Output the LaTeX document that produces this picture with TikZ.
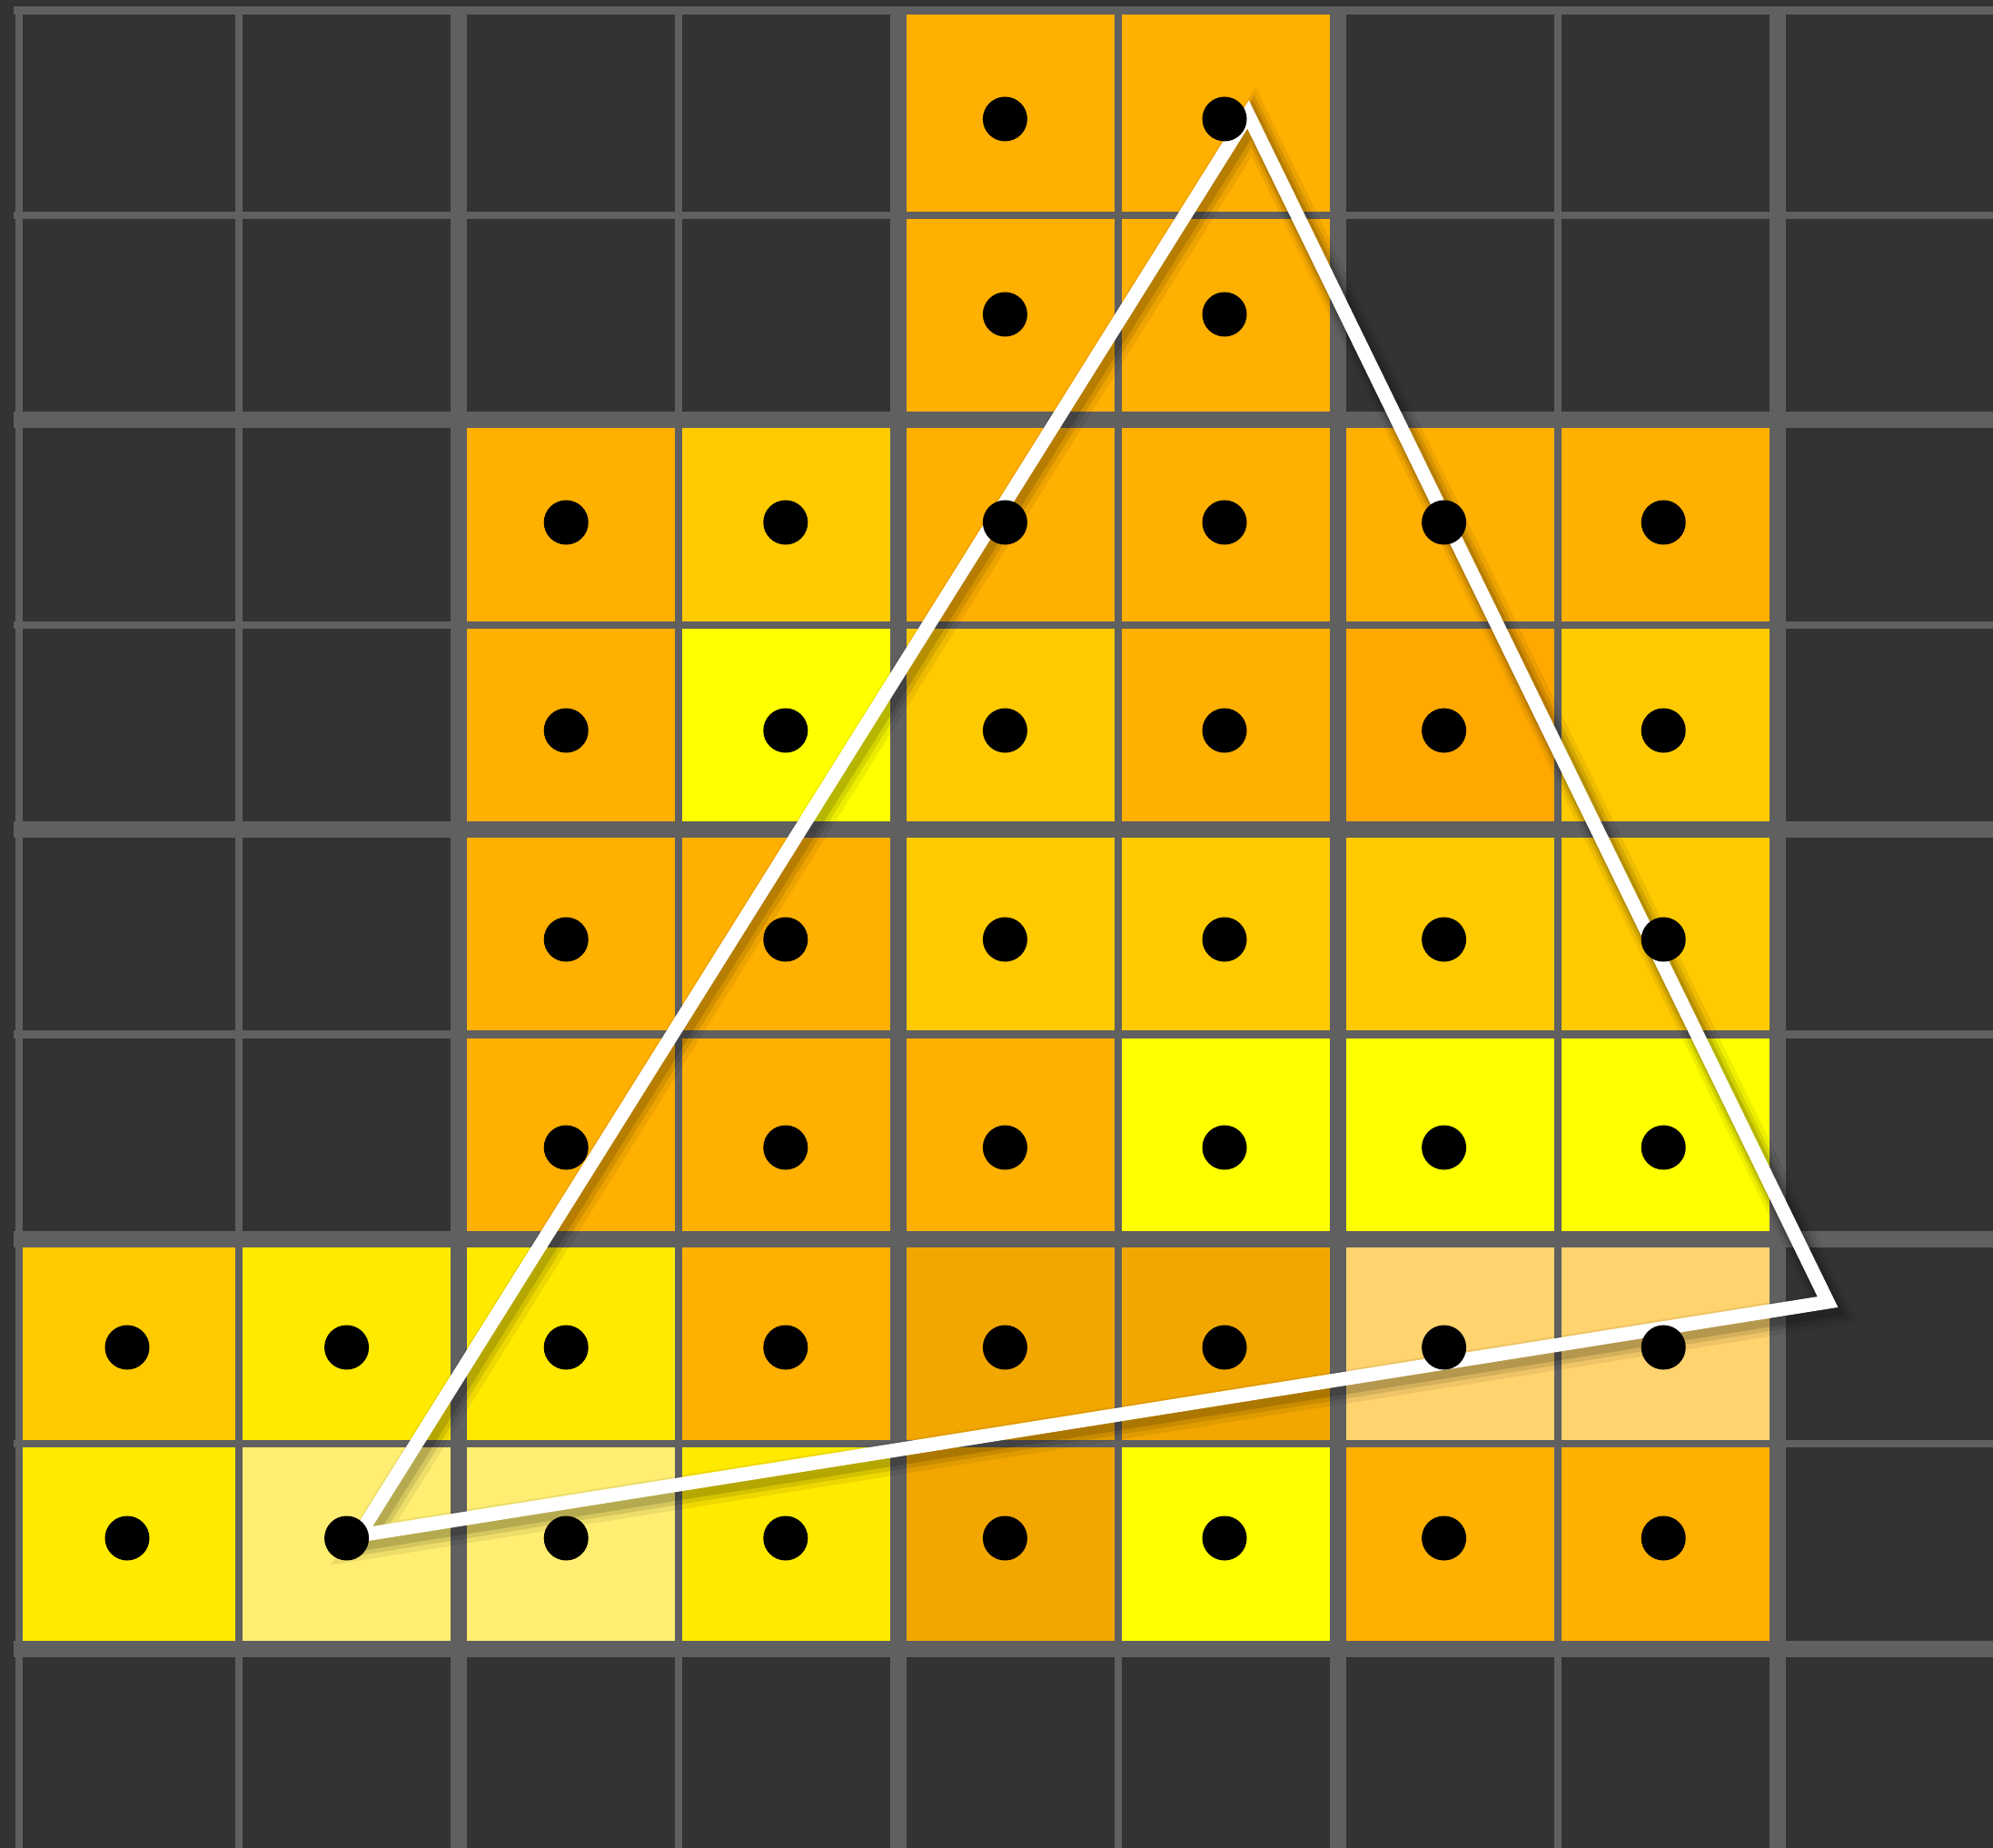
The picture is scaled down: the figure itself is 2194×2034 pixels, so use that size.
\documentclass[tikz,border=0pt]{standalone}
\definecolor{bgdark}{HTML}{333333}
\definecolor{gridc}{HTML}{606060}
\definecolor{cO}{HTML}{FFB000}
\definecolor{cOt}{HTML}{FFA900}
\definecolor{cG}{HTML}{FFCA00}
\definecolor{cY}{HTML}{FFFF00}
\definecolor{cYt}{HTML}{FFEA00}
\definecolor{cP}{HTML}{FFEE72}
\definecolor{cPO}{HTML}{FFD36E}
\definecolor{cDO}{HTML}{F2A700}
\tikzset{
  gridthin/.style={draw=gridc, line width=2.3pt},
  gridthick/.style={draw=gridc, line width=5.1pt},
  edge/.style={draw=white, line width=4.3pt, line join=miter, miter limit=10},
  edgeshadow/.style={draw=black, line join=miter, miter limit=10},
  sample/.style={fill=black}
}
\begin{document}
\begin{tikzpicture}[x=0.01cm,y=-0.01cm]
\useasboundingbox (0,0) rectangle (2194,2034);
\fill[bgdark] (0,0) rectangle (2194,2034);
\def\cw{242}\def\rh{225.4}\def\xo{21}\def\yo{11.5}
% coloured cells
\foreach \cx/\ry/\cc in {
  4/0/cO,5/0/cO,
  4/1/cO,5/1/cO,
  2/2/cO,3/2/cG,4/2/cO,5/2/cO,6/2/cO,7/2/cO,
  2/3/cO,3/3/cY,4/3/cG,5/3/cO,6/3/cOt,7/3/cG,
  2/4/cO,3/4/cO,4/4/cG,5/4/cG,6/4/cG,7/4/cG,
  2/5/cO,3/5/cO,4/5/cO,5/5/cY,6/5/cY,7/5/cY,
  0/6/cG,1/6/cYt,2/6/cYt,3/6/cO,4/6/cDO,5/6/cDO,6/6/cPO,7/6/cPO,
  0/7/cYt,1/7/cP,2/7/cP,3/7/cYt,4/7/cDO,5/7/cY,6/7/cO,7/7/cO}{
  \fill[\cc] ({\xo+\cw*\cx},{\yo+\rh*\ry}) rectangle ({\xo+\cw*(\cx+1)},{\yo+\rh*(\ry+1)});
}
% grid lines
\foreach \j in {0,1,3,5,7}{
  \draw[gridthin] ({\xo+\cw*\j},8) -- ({\xo+\cw*\j},2034);
}
\foreach \j in {2,4,6,8}{
  \draw[gridthick] ({\xo+\cw*\j},8) -- ({\xo+\cw*\j},2034);
}
\foreach \i in {0,1,3,5,7}{
  \draw[gridthin] (15,{\yo+\rh*\i}) -- (2194,{\yo+\rh*\i});
}
\foreach \i in {2,4,6,8}{
  \draw[gridthick] (15,{\yo+\rh*\i}) -- (2194,{\yo+\rh*\i});
}
% triangle
\coordinate (A) at (1374,126);
\coordinate (B) at (395,1690);
\coordinate (C) at (2012,1433);
\draw[edgeshadow, opacity=0.07, line width=10.5pt]
  ([shift={(6,8)}]A) -- ([shift={(6,8)}]B) -- ([shift={(6,8)}]C) -- cycle;
\draw[edgeshadow, opacity=0.10, line width=8pt]
  ([shift={(5,7)}]A) -- ([shift={(5,7)}]B) -- ([shift={(5,7)}]C) -- cycle;
\draw[edgeshadow, opacity=0.14, line width=6pt]
  ([shift={(4,6)}]A) -- ([shift={(4,6)}]B) -- ([shift={(4,6)}]C) -- cycle;
\draw[edge] (A) -- (B) -- (C) -- cycle;
% sample dots
\foreach \yy/\jl in {131/{4,5},346/{4,5},575/{2,...,7},804/{2,...,7},1034/{2,...,7},1263/{2,...,7},1483/{0,...,7},1693/{0,...,7}}{
  \foreach \j in \jl{
    \fill[sample] ({140+241.6*\j},\yy) circle[radius=0.245cm];
  }
}
\end{tikzpicture}
\end{document}
